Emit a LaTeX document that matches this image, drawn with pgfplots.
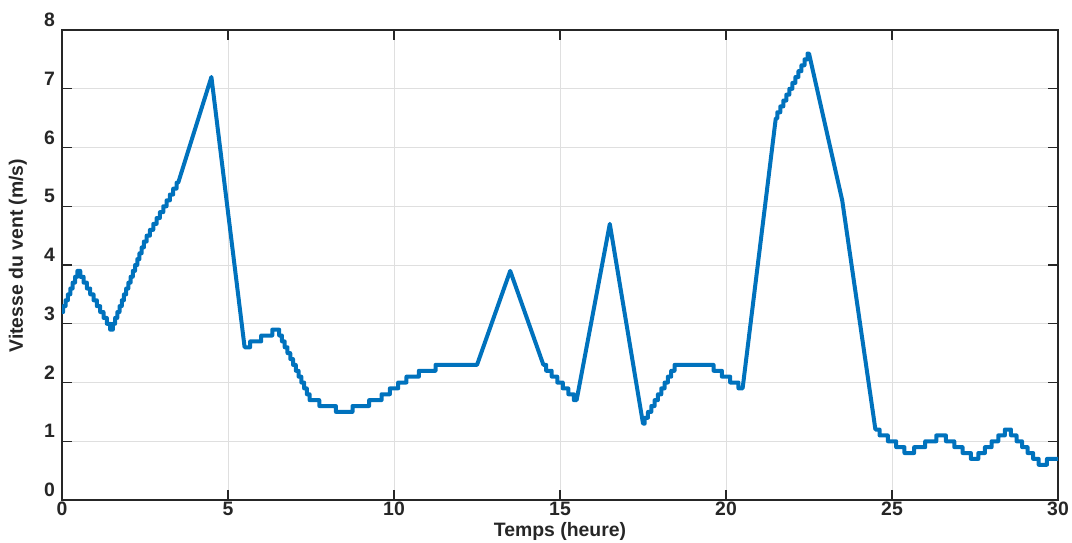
\documentclass[border=0pt]{standalone}
\usepackage{fontspec}
\setmainfont{Liberation Sans}
\usepackage{pgfplots}
\pgfplotsset{compat=1.18}
\definecolor{mblue}{RGB}{0,114,189}
\definecolor{axgray}{HTML}{262626}
\definecolor{gridgray}{HTML}{DFDFDF}
\begin{document}
\begin{tikzpicture}
\begin{axis}[
  name=ax,
  scale only axis,
  width=498pt, height=235pt,
  xmin=0, xmax=30, ymin=0, ymax=8,
  xtick={0,5,...,30}, ytick={0,1,...,8},
  grid=major,
  major grid style={gridgray, line width=0.5pt},
  axis line style={axgray, line width=0.7pt},
  tick style={axgray, line width=0.7pt},
  major tick length=5pt,
  tick align=inside,
  tick label style={font=\fontsize{9.7}{11.6}\selectfont\bfseries, text=axgray},
  /pgf/number format/assume math mode=true,
  xticklabel style={yshift=2.5pt},
  yticklabel style={yshift=5pt},
  xlabel={Temps (heure)},
  ylabel={Vitesse du vent (m/s)},
  every axis x label/.style={at={(axis description cs:0.5,-0.066)}, anchor=center, font=\fontsize{9.7}{11.6}\selectfont\bfseries, text=axgray},
  every axis y label/.style={at={(axis description cs:-0.0442,0.52)}, anchor=center, rotate=90, font=\fontsize{9.7}{11.6}\selectfont\bfseries, text=axgray},
]
\addplot[mblue, line width=2pt, line join=round, line cap=round, no marks] coordinates {
(0,3.2) (0.036,3.2) (0.036,3.3) (0.107,3.3) (0.107,3.4) (0.179,3.4) (0.179,3.5) (0.25,3.5) (0.25,3.6) (0.321,3.6) (0.321,3.7) (0.393,3.7) (0.393,3.8) (0.464,3.8) (0.464,3.9)
(0.55,3.9) (0.55,3.8) (0.65,3.8) (0.65,3.7) (0.75,3.7) (0.75,3.6) (0.85,3.6) (0.85,3.5) (0.95,3.5) (0.95,3.4) (1.05,3.4) (1.05,3.3) (1.15,3.3) (1.15,3.2) (1.25,3.2) (1.25,3.1) (1.35,3.1) (1.35,3.0) (1.45,3.0) (1.45,2.9)
(1.533,2.9) (1.533,3.0) (1.6,3.0) (1.6,3.1) (1.667,3.1) (1.667,3.2) (1.733,3.2) (1.733,3.3) (1.8,3.3) (1.8,3.4) (1.867,3.4) (1.867,3.5) (1.933,3.5) (1.933,3.6) (2.0,3.6) (2.0,3.7) (2.067,3.7) (2.067,3.8) (2.133,3.8) (2.133,3.9) (2.2,3.9) (2.2,4.0) (2.267,4.0) (2.267,4.1) (2.333,4.1) (2.333,4.2) (2.4,4.2) (2.4,4.3) (2.467,4.3) (2.467,4.4)
(2.55,4.4) (2.55,4.5) (2.65,4.5) (2.65,4.6) (2.75,4.6) (2.75,4.7) (2.85,4.7) (2.85,4.8) (2.95,4.8) (2.95,4.9) (3.05,4.9) (3.05,5.0) (3.15,5.0) (3.15,5.1) (3.25,5.1) (3.25,5.2) (3.35,5.2) (3.35,5.3) (3.45,5.3) (3.45,5.4)
(3.5,5.4) (4.5,7.2) (5.5,2.6)
(5.667,2.6) (5.667,2.7) (6.0,2.7) (6.0,2.8) (6.333,2.8) (6.333,2.9)
(6.542,2.9) (6.542,2.8) (6.625,2.8) (6.625,2.7) (6.708,2.7) (6.708,2.6) (6.792,2.6) (6.792,2.5) (6.875,2.5) (6.875,2.4) (6.958,2.4) (6.958,2.3) (7.042,2.3) (7.042,2.2) (7.125,2.2) (7.125,2.1) (7.208,2.1) (7.208,2.0) (7.292,2.0) (7.292,1.9) (7.375,1.9) (7.375,1.8) (7.458,1.8) (7.458,1.7)
(7.75,1.7) (7.75,1.6) (8.25,1.6) (8.25,1.5)
(8.75,1.5) (8.75,1.6) (9.25,1.6) (9.25,1.7)
(9.625,1.7) (9.625,1.8) (9.875,1.8) (9.875,1.9) (10.125,1.9) (10.125,2.0) (10.375,2.0) (10.375,2.1)
(10.75,2.1) (10.75,2.2) (11.25,2.2) (11.25,2.3)
(12.5,2.3) (13.5,3.9) (14.5,2.3)
(14.583,2.3) (14.583,2.2) (14.75,2.2) (14.75,2.1) (14.917,2.1) (14.917,2.0) (15.083,2.0) (15.083,1.9) (15.25,1.9) (15.25,1.8) (15.417,1.8) (15.417,1.7) (15.5,1.7)
(16.5,4.7) (17.5,1.3)
(17.55,1.3) (17.55,1.4) (17.65,1.4) (17.65,1.5) (17.75,1.5) (17.75,1.6) (17.85,1.6) (17.85,1.7) (17.95,1.7) (17.95,1.8) (18.05,1.8) (18.05,1.9) (18.15,1.9) (18.15,2.0) (18.25,2.0) (18.25,2.1) (18.35,2.1) (18.35,2.2) (18.45,2.2) (18.45,2.3)
(19.5,2.3)
(19.625,2.3) (19.625,2.2) (19.875,2.2) (19.875,2.1) (20.125,2.1) (20.125,2.0) (20.375,2.0) (20.375,1.9) (20.5,1.9)
(21.5,6.5)
(21.545,6.5) (21.545,6.6) (21.636,6.6) (21.636,6.7) (21.727,6.7) (21.727,6.8) (21.818,6.8) (21.818,6.9) (21.909,6.9) (21.909,7.0) (22.0,7.0) (22.0,7.1) (22.091,7.1) (22.091,7.2) (22.182,7.2) (22.182,7.3) (22.273,7.3) (22.273,7.4) (22.364,7.4) (22.364,7.5) (22.455,7.5) (22.455,7.6) (22.5,7.6)
(23.5,5.1) (24.5,1.2)
(24.625,1.2) (24.625,1.1) (24.875,1.1) (24.875,1.0) (25.125,1.0) (25.125,0.9) (25.375,0.9) (25.375,0.8)
(25.667,0.8) (25.667,0.9) (26.0,0.9) (26.0,1.0) (26.333,1.0) (26.333,1.1)
(26.625,1.1) (26.625,1.0) (26.875,1.0) (26.875,0.9) (27.125,0.9) (27.125,0.8) (27.375,0.8) (27.375,0.7)
(27.6,0.7) (27.6,0.8) (27.8,0.8) (27.8,0.9) (28.0,0.9) (28.0,1.0) (28.2,1.0) (28.2,1.1) (28.4,1.1) (28.4,1.2)
(28.583,1.2) (28.583,1.1) (28.75,1.1) (28.75,1.0) (28.917,1.0) (28.917,0.9) (29.083,0.9) (29.083,0.8) (29.25,0.8) (29.25,0.7) (29.417,0.7) (29.417,0.6)
(29.667,0.6) (29.667,0.7) (30,0.7)
};
\end{axis}
\pgfresetboundingbox
\path[use as bounding box] ([shift={(-31pt,-21pt)}]ax.south west) rectangle ([shift={(7pt,15pt)}]ax.north east);
\end{tikzpicture}
\end{document}
